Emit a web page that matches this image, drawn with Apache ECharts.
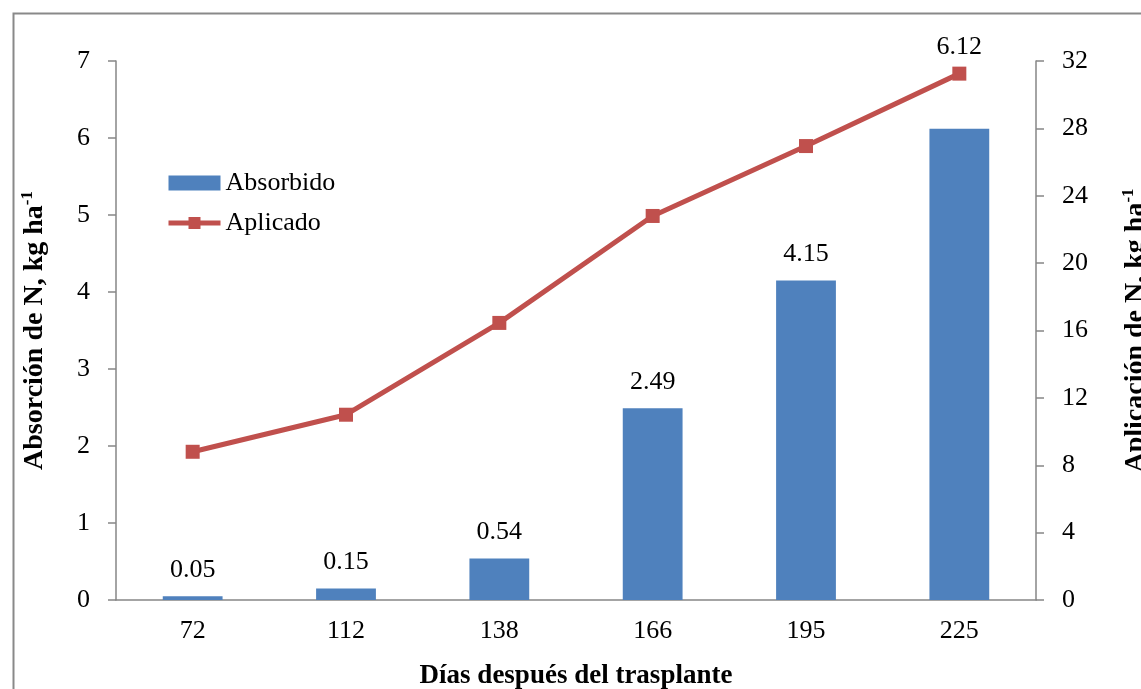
<!DOCTYPE html>
<html>
<head>
<meta charset="utf-8">
<script src="https://cdn.jsdelivr.net/npm/echarts@6/dist/echarts.min.js"></script>
<style>
  html, body { margin: 0; padding: 0; background: #fff; }
  #chart { width: 1141px; height: 689px; }
</style>
</head>
<body>
<div id="chart"></div>
<script>
// Días después del trasplante
const days = ['72', '112', '138', '166', '195', '225'];
// Nitrógeno absorbido (kg/ha) - eje izquierdo
const absorbido = [0.05, 0.15, 0.54, 2.49, 4.15, 6.12];
// Nitrógeno aplicado acumulado (kg/ha) - eje derecho
const aplicado = [8.8, 11.0, 16.45, 22.8, 26.95, 31.25];

// Desplazamiento vertical de cada etiqueta de barra (la última se sube sobre la línea)
const labelShift = [0, 0, 0, 0, 0, -56];

const FONT = '"Liberation Serif", "DejaVu Serif", serif';
const AXIS_GRAY = '#868686';
const BLUE = '#4F81BD';
const RED = '#C0504D';

const chart = echarts.init(document.getElementById('chart'), null, { renderer: 'canvas' });

const axisLine = { show: true, lineStyle: { color: AXIS_GRAY, width: 1.5 } };
const axisTick = { show: true, inside: false, length: 8, lineStyle: { color: AXIS_GRAY, width: 1.5 } };
const tickText = { color: '#000', fontFamily: FONT, fontSize: 26 };

const titleRich = {
  t: { fontFamily: FONT, fontSize: 28, fontWeight: 'bold', color: '#000', lineHeight: 32 },
  s: { fontFamily: FONT, fontSize: 17, fontWeight: 'bold', color: '#000', verticalAlign: 'top', lineHeight: 32 }
};

chart.setOption({
  backgroundColor: '#fff',
  animation: false,
  graphic: [{
    type: 'rect',
    left: 11, top: 11,
    shape: { width: 1200, height: 800 },
    style: { fill: 'none', stroke: '#898989', lineWidth: 2 },
    silent: true, z: 0
  }],
  grid: {
    left: 116, right: 105, top: 61, bottom: 89,
    containLabel: false,
    outerBoundsMode: 'none'
  },
  legend: {
    orient: 'vertical',
    left: 161, top: 165,
    itemWidth: 52, itemHeight: 15,
    itemGap: 14,
    textStyle: { fontFamily: FONT, fontSize: 26, color: '#000' },
    data: [
      { name: 'Absorbido', icon: 'rect' },
      { name: 'Aplicado', lineStyle: { width: 5, color: RED } }
    ]
  },
  xAxis: {
    type: 'category',
    data: days,
    axisLine: axisLine,
    axisTick: { show: false },
    axisLabel: Object.assign({ margin: 18 }, tickText),
    splitLine: { show: false },
    name: 'Días después del trasplante',
    nameLocation: 'middle',
    nameGap: 63,
    nameTextStyle: { fontFamily: FONT, fontSize: 27, fontWeight: 'bold', color: '#000' }
  },
  yAxis: [{
    type: 'value',
    position: 'left',
    min: 0, max: 7, interval: 1,
    axisLine: axisLine,
    axisTick: axisTick,
    axisLabel: Object.assign({ margin: 26 }, tickText),
    splitLine: { show: false },
    name: '{t|Absorción de N, kg ha}{s|-1}',
    nameLocation: 'middle',
    nameRotate: 90,
    nameGap: 65,
    nameTextStyle: { rich: titleRich }
  }, {
    type: 'value',
    position: 'right',
    min: 0, max: 32, interval: 4,
    axisLine: axisLine,
    axisTick: axisTick,
    axisLabel: Object.assign({ margin: 26 }, tickText),
    splitLine: { show: false },
    name: '{t|Aplicación de N, kg ha}{s|-1}',
    nameLocation: 'middle',
    nameRotate: 90,
    nameGap: 84,
    nameTextStyle: { rich: titleRich }
  }],
  series: [{
    name: 'Absorbido',
    type: 'bar',
    yAxisIndex: 0,
    barWidth: '39%',
    itemStyle: { color: BLUE },
    data: absorbido.map((v, i) => ({
      value: v,
      label: { offset: [0, labelShift[i]] }
    })),
    label: {
      show: true,
      position: 'top',
      distance: 13,
      fontFamily: FONT,
      fontSize: 26,
      color: '#000',
      formatter: p => p.value.toFixed(2)
    },
    z: 2
  }, {
    name: 'Aplicado',
    type: 'line',
    yAxisIndex: 1,
    data: aplicado,
    symbol: 'rect',
    symbolSize: 14,
    lineStyle: { color: RED, width: 5 },
    itemStyle: { color: RED },
    z: 3
  }]
});
</script>
</body>
</html>
